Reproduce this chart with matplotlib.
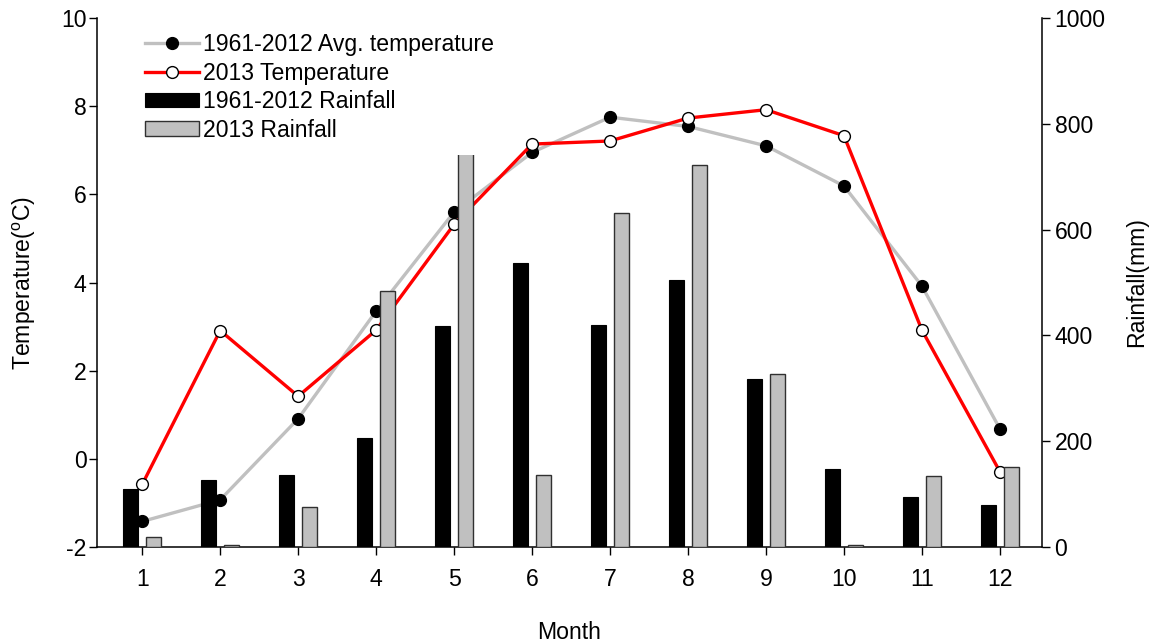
import matplotlib
matplotlib.use("Agg")
import matplotlib.pyplot as plt
from matplotlib.patches import Rectangle
import numpy as np

plt.rcParams['font.family'] = ['Liberation Sans', 'DejaVu Sans']
plt.rcParams['mathtext.fontset'] = 'custom'
plt.rcParams['mathtext.rm'] = 'Liberation Sans'
plt.rcParams['mathtext.it'] = 'Liberation Sans:italic'
plt.rcParams['axes.unicode_minus'] = False

months = [1, 2, 3, 4, 5, 6, 7, 8, 9, 10, 11, 12]
temp_avg = [-1.42, -0.93, 0.91, 3.35, 5.6, 6.95, 7.75, 7.54, 7.1, 6.19, 3.92, 0.68]
temp_2013 = [-0.58, 2.91, 1.42, 2.92, 5.32, 7.14, 7.21, 7.73, 7.92, 7.33, 2.92, -0.29]
rain_avg = [110, 127, 136, 206, 417, 536, 420, 504, 317, 147, 94, 80]
rain_2013 = [19, 3, 76, 483, 745, 136, 632, 722, 327, 3, 135, 152]

FS = 16.6

fig = plt.figure(figsize=(11.49, 6.44), dpi=100)
ax = fig.add_axes([97/1149, 1-547/644, (1042-97)/1149, (547-18)/644])
ax2 = ax.twinx()

x = np.array(months, dtype=float)

# temperature lines on the left axis
l1, = ax.plot(x, temp_avg, color='#c0c0c0', lw=2.4, marker='o', ms=8.5,
              mfc='black', mec='black', zorder=3,
              label='1961-2012 Avg. temperature')
l2, = ax.plot(x, temp_2013, color='#ff0000', lw=2.4, marker='o', ms=8.5,
              mfc='white', mec='black', mew=1.0, zorder=4,
              label='2013 Temperature')

# rainfall bars on the right axis
bw = 0.19
off = 0.148
b1 = ax2.bar(x - off, rain_avg, width=bw, color='black', edgecolor='black',
             linewidth=0.8, label='1961-2012 Rainfall')
b2 = ax2.bar(x + off, rain_2013, width=bw, color='#c0c0c0', edgecolor='#303030',
             linewidth=1.0, label='2013 Rainfall')
# the tallest 2013 bar is shown open at the top
tall = b2.patches[4]
clip = Rectangle((tall.get_x() - 0.05, 0), tall.get_width() + 0.1, rain_2013[4] - 4,
                 transform=ax2.transData)
tall.set_clip_path(clip)

ax.set_xlim(0.42, 12.54)
ax.set_ylim(-2, 10)
ax2.set_ylim(0, 1000)
ax.set_xticks(months)
ax.set_yticks(np.arange(-2, 11, 2))
ax2.set_yticks(np.arange(0, 1001, 200))

for a in (ax, ax2):
    a.spines['top'].set_visible(False)
    for s in a.spines.values():
        s.set_linewidth(1.1)
ax.spines['right'].set_visible(False)
ax2.spines['left'].set_visible(False)
ax2.spines['bottom'].set_visible(False)

ax.tick_params(axis='y', direction='out', length=6, width=1.0, labelsize=FS, pad=1.5)
ax.tick_params(axis='x', direction='out', length=6, width=1.0, labelsize=FS, pad=9)
ax2.tick_params(axis='y', direction='out', length=6, width=1.0, labelsize=FS, pad=3)

ax.set_xlabel('Month', fontsize=FS)
ax.xaxis.set_label_coords(0.5, -0.14)
ax.set_ylabel(r'Temperature($^{\rm o}$C)', fontsize=FS)
ax.yaxis.set_label_coords(-0.062, 0.5)
ax2.set_ylabel('Rainfall(mm)', fontsize=FS)
ax2.yaxis.set_label_coords(1.088, 0.5)

ax2.legend([l1, l2, b1, b2],
           [l1.get_label(), l2.get_label(), b1.get_label(), b2.get_label()],
           loc='upper left', bbox_to_anchor=(145/1149, 1-33/644),
           bbox_transform=fig.transFigure, frameon=False, fontsize=FS,
           handlelength=2.35, handleheight=0.6, handletextpad=0.15,
           labelspacing=0.24, borderpad=0, borderaxespad=0)

fig.savefig('out.png', dpi=100)
